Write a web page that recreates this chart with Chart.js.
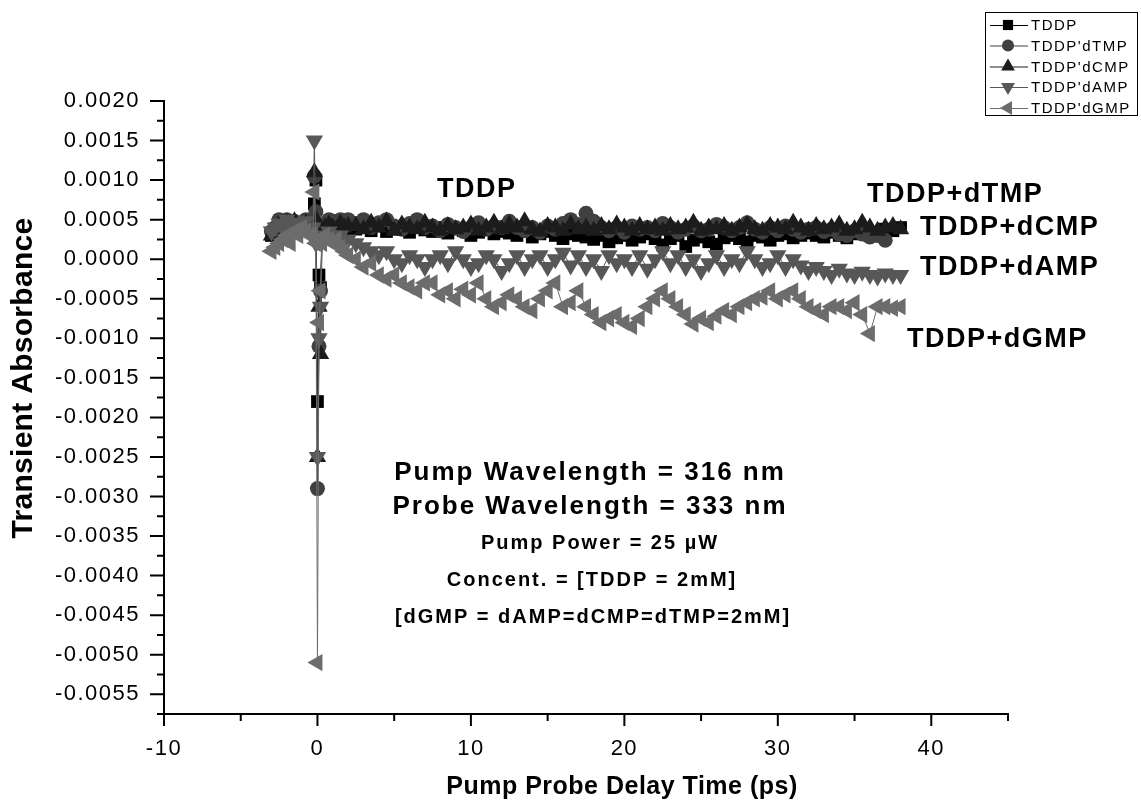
<!DOCTYPE html>
<html>
<head>
<meta charset="utf-8">
<script src="https://cdn.jsdelivr.net/npm/chart.js@4.4.0/dist/chart.umd.min.js"></script>
<style>
  html, body { margin: 0; padding: 0; background: #fff; }
  canvas { display: block; }
</style>
</head>
<body>
<canvas id="graficoTA" width="1141" height="806"></canvas>
<script>
// tiempos de retardo (ps)
const tiempos = [
  -3.0, -2.75, -2.5, -2.25, -2.0, -1.75, -1.5, -1.25, -1.0, -0.75, -0.5,
  -0.3, -0.2, -0.1, 0.0, 0.1, 0.2, 0.3,
  0.5, 0.75, 1.0, 1.25, 1.5, 1.75, 2.0,
  2.5, 3, 3.5, 4, 4.5, 5, 5.5, 6, 6.5, 7,
  7.5, 8, 8.5, 9, 9.5, 10, 10.5, 11, 11.5, 12,
  12.5, 13, 13.5, 14, 14.5, 15, 15.5, 16, 16.5, 17,
  17.5, 18, 18.5, 19, 19.5, 20, 20.5, 21, 21.5, 22,
  22.5, 23, 23.5, 24, 24.5, 25, 25.5, 26, 26.5, 27,
  27.5, 28, 28.5, 29, 29.5, 30, 30.5, 31, 31.5, 32,
  32.5, 33, 33.5, 34, 34.5, 35, 35.5, 36, 36.5, 37,
  37.5, 38
];

const tddp = [
  0.0003, 0.00035, 0.0004, 0.00045, 0.0004, 0.00038, 0.00042, 0.00036, 0.0004, 0.00044, 0.00038,
  0.0004, 0.0007, 0.0010, -0.0018, -0.0002, -0.00036, 0.0003,
  0.0004, 0.00042, 0.00038, 0.0004, 0.00045, 0.0004, 0.00038,
  0.00038, 0.0004, 0.00036, 0.00042, 0.00035, 0.0004, 0.00038, 0.00034, 0.0004, 0.00037,
  0.00035, 0.0004, 0.00033, 0.00038, 0.00036, 0.0003, 0.00034, 0.00038, 0.00032, 0.00035,
  0.00033, 0.0003, 0.00036, 0.00028, 0.00032, 0.00035, 0.0003, 0.00026, 0.00032, 0.0003,
  0.00028, 0.00025, 0.0003, 0.00022, 0.00027, 0.0003, 0.00024, 0.00028, 0.00032, 0.00026,
  0.00018, 0.00026, 0.0003, 0.00016, 0.00024, 0.00028, 0.00022, 0.00019, 0.00027, 0.0003,
  0.00026, 0.00022, 0.0003, 0.00028, 0.00024, 0.0003, 0.00032, 0.00027, 0.0003, 0.00033,
  0.0003, 0.00028, 0.00034, 0.0003, 0.00027, 0.00032, 0.00035, 0.0003, 0.00034, 0.00038,
  0.00036, 0.0004
];

const tddpDTMP = [
  0.00035, 0.0004, 0.0005, 0.00045, 0.0005, 0.00042, 0.00048, 0.0004, 0.00046, 0.0005, 0.00044,
  0.0005, 0.00105, 0.0006, -0.0029, -0.0011, -0.0004, 0.0004,
  0.00045, 0.0005, 0.00048, 0.00042, 0.0005, 0.00046, 0.0005,
  0.00045, 0.0005, 0.0004, 0.00046, 0.0005, 0.00042, 0.00038, 0.00045, 0.0005, 0.0004,
  0.00042, 0.00036, 0.00044, 0.0004, 0.00035, 0.0004, 0.00046, 0.00038, 0.00042, 0.0004,
  0.00048, 0.0004, 0.00036, 0.0004, 0.00034, 0.00042, 0.00038, 0.00045, 0.0005, 0.00044,
  0.00058, 0.00048, 0.0004, 0.00036, 0.0004, 0.00034, 0.00042, 0.00038, 0.0004, 0.00036,
  0.00045, 0.0004, 0.00034, 0.00038, 0.00042, 0.00036, 0.00038, 0.00044, 0.0004, 0.00036,
  0.0004, 0.00046, 0.00038, 0.00034, 0.0004, 0.00036, 0.00042, 0.00038, 0.00034, 0.00038,
  0.0004, 0.00035, 0.00038, 0.00032, 0.0003, 0.00036, 0.00032, 0.00028, 0.0003, 0.00024,
  null, null
];

const tddpDCMP = [
  0.0003, 0.00038, 0.00044, 0.0004, 0.00046, 0.0004, 0.00048, 0.00042, 0.0004, 0.00045, 0.0004,
  0.0004, 0.0011, 0.0005, -0.0025, -0.0006, -0.0012, 0.0003,
  0.0004, 0.00044, 0.0004, 0.00038, 0.00045, 0.0004, 0.00042,
  0.00042, 0.00038, 0.00046, 0.0004, 0.00048, 0.00036, 0.00044, 0.0004, 0.00038, 0.00046,
  0.0004, 0.00036, 0.00042, 0.00038, 0.0004, 0.00044, 0.00036, 0.0004, 0.00046, 0.00038,
  0.00044, 0.0004, 0.00048, 0.00038, 0.00035, 0.00042, 0.0004, 0.00036, 0.00044, 0.00038,
  0.0004, 0.00036, 0.00042, 0.00038, 0.00044, 0.0004, 0.00036, 0.00042, 0.00038, 0.0004,
  0.00036, 0.00042, 0.00038, 0.0004, 0.00046, 0.00036, 0.0004, 0.00038, 0.00042, 0.00036,
  0.0004, 0.00044, 0.00038, 0.00036, 0.00042, 0.0004, 0.00038, 0.00046, 0.0004, 0.00036,
  0.00042, 0.00038, 0.0004, 0.00044, 0.00036, 0.00038, 0.00046, 0.0004, 0.00036, 0.0004,
  0.00042, 0.00038
];

const tddpDAMP = [
  0.00035, 0.0004, 0.00045, 0.0004, 0.0005, 0.00042, 0.00046, 0.0004, 0.00044, 0.00048, 0.0004,
  0.0004, 0.0015, 0.0002, -0.0025, -0.0010, -0.0006, 0.00025,
  0.0003, 0.00035, 0.0003, 0.00025, 0.0003, 0.0002, 0.00025,
  0.0002, 0.00015, 0.0001, 0.00005, 0.0001, 0.0, -0.00005, 0.00005, 0.0, -0.0001,
  0.0, 0.00005, -0.00005, 0.0001, 0.0, -0.0001, -0.00005, 0.00005, 0.0, -0.00015,
  -0.00005, 0.00005, -0.0001, 0.0, 0.00005, -0.0001, 0.0, 0.00008, -0.00008, 0.00005,
  -0.0001, 0.0, -0.00015, 0.00005, -0.00005, 0.0, -0.0001, 0.00005, -0.00012, 0.0,
  0.0001, -0.00005, 0.00005, -0.0001, 0.0, -0.00015, -0.00005, 0.00005, -0.0001, 0.0,
  -0.00005, 0.0001, 0.0, -0.0001, -0.00005, 0.00005, -0.0001, 0.0, -0.00008, -0.00015,
  -0.0001, -0.00015, -0.0002, -0.00012, -0.00018, -0.0002, -0.00016, -0.0002, -0.00022, -0.00018,
  -0.0002, -0.0002
];

const tddpDGMP = [
  0.0001, 0.00015, 0.0002, 0.00025, 0.0003, 0.0002, 0.00035, 0.0003, 0.0004, 0.00035, 0.0003,
  0.0003, 0.00085, 0.0002, -0.0051, -0.0008, -0.0004, 0.0002,
  0.0003, 0.00025, 0.0002, 0.00025, 0.00015, 0.0001, 0.00005,
  0.0, -0.0001, -0.00005, -0.0002, -0.00025, -0.0002, -0.0003, -0.00035, -0.0004, -0.0003,
  -0.0003, -0.00045, -0.0004, -0.0005, -0.00038, -0.00045, -0.0003, -0.0005, -0.0006, -0.00055,
  -0.00045, -0.0005, -0.0006, -0.00065, -0.0005, -0.0004, -0.0003, -0.0006, -0.00055, -0.0004,
  -0.0006, -0.0007, -0.0008, -0.00075, -0.0007, -0.0008, -0.00085, -0.00075, -0.0006, -0.0005,
  -0.0004, -0.0005, -0.0006, -0.0007, -0.00082, -0.00075, -0.0008, -0.00072, -0.00065, -0.0007,
  -0.0006, -0.00055, -0.0005, -0.00048, -0.0004, -0.0005, -0.00045, -0.0004, -0.0005, -0.0006,
  -0.00065, -0.0007, -0.0006, -0.0006, -0.00065, -0.00055, -0.0007, -0.00094, -0.0006, -0.0006,
  -0.00062, -0.0006
];

const nombresLeyenda = ['TDDP', "TDDP'dTMP", "TDDP'dCMP", "TDDP'dAMP", "TDDP'dGMP"];
const valoresSeries = [tddp, tddpDTMP, tddpDCMP, tddpDAMP, tddpDGMP];
const etiquetasSerie = ['TDDP', 'TDDP+dTMP', 'TDDP+dCMP', 'TDDP+dAMP', 'TDDP+dGMP'];
const ticksX = [-10, 0, 10, 20, 30, 40];
const ticksY = [0.0020, 0.0015, 0.0010, 0.0005, 0.0000, -0.0005, -0.0010, -0.0015, -0.0020,
  -0.0025, -0.0030, -0.0035, -0.0040, -0.0045, -0.0050, -0.0055];
const notas = ['Pump Wavelength = 316 nm', 'Probe Wavelength = 333 nm', 'Pump Power = 25 \u00b5W',
  'Concent. = [TDDP = 2mM]', '[dGMP = dAMP=dCMP=dTMP=2mM]'];

const colores = ['#000000', '#404040', '#1c1c1c', '#575757', '#6c6c6c'];
const marcadores = ['rect', 'circle', 'triangle', 'triangle', 'triangle'];
const rotaciones = [0, 0, 0, 180, 270];
const radios = [9, 7.5, 10, 10, 10];

function marcador(ctx, estilo, rot, r, x, y, color) {
  ctx.save();
  ctx.fillStyle = color;
  ctx.beginPath();
  if (estilo === 'rect') {
    const s = r * Math.SQRT1_2;
    ctx.rect(x - s, y - s, 2 * s, 2 * s);
  } else if (estilo === 'circle') {
    ctx.arc(x, y, r, 0, Math.PI * 2);
  } else {
    let a = rot * Math.PI / 180;
    ctx.moveTo(x + Math.sin(a) * r, y - Math.cos(a) * r);
    for (let k = 0; k < 2; k++) {
      a += 2 * Math.PI / 3;
      ctx.lineTo(x + Math.sin(a) * r, y - Math.cos(a) * r);
    }
    ctx.closePath();
  }
  ctx.fill();
  ctx.restore();
}

function texto(ctx, str, x, y, fuente, espacio, alinear) {
  ctx.save();
  ctx.font = fuente;
  ctx.letterSpacing = espacio + 'px';
  ctx.fillStyle = '#000';
  ctx.textBaseline = 'middle';
  let w = ctx.measureText(str).width;
  let x0 = x;
  if (alinear === 'center') x0 = x - w / 2;
  ctx.textAlign = 'left';
  ctx.fillText(str, x0, y);
  ctx.restore();
}

const decoracion = {
  id: 'decoracion',
  beforeDraw(chart) {
    chart.ctx.letterSpacing = '1.5px';
  },
  afterDraw(chart) {
    const { ctx } = chart;
    const xs = chart.scales.x, ys = chart.scales.y;
    ctx.save();
    ctx.letterSpacing = '0px';
    ctx.strokeStyle = '#000';
    ctx.lineWidth = 2;
    const x0 = xs.left, y0 = ys.bottom;
    // marcas del eje Y (principales y secundarias)
    ctx.beginPath();
    for (let i = 0; i < ticksY.length; i++) {
      const py = ys.getPixelForValue(ticksY[i]);
      ctx.moveTo(x0, py); ctx.lineTo(x0 - 14, py);
      const pm = ys.getPixelForValue(ticksY[i] - 0.00025);
      ctx.moveTo(x0, pm); ctx.lineTo(x0 - 7, pm);
    }
    // marcas del eje X
    for (let i = 0; i < ticksX.length; i++) {
      const px = xs.getPixelForValue(ticksX[i]);
      ctx.moveTo(px, y0); ctx.lineTo(px, y0 + 12);
      const pm = xs.getPixelForValue(ticksX[i] + 5);
      ctx.moveTo(pm, y0); ctx.lineTo(pm, y0 + 7);
    }
    ctx.stroke();
    ctx.restore();

    // titulos de ejes
    texto(ctx, 'Pump Probe Delay Time (ps)', 622, 787, 'bold 25px "Liberation Sans"', 0.5, 'center');
    ctx.save();
    ctx.translate(24, 378);
    ctx.rotate(-Math.PI / 2);
    texto(ctx, 'Transient Absorbance', 0, 0, 'bold 30px "Liberation Sans"', 0.3, 'center');
    ctx.restore();

    // etiquetas de series
    const posEtiq = [[437, 190], [867, 195], [920, 228], [920, 268], [907, 340]];
    etiquetasSerie.forEach((t, i) => {
      texto(ctx, t, posEtiq[i][0], posEtiq[i][1], 'bold 27px "Liberation Sans"', 1.5, 'left');
    });

    // notas
    const posNotas = [[590, 473, 26], [590, 507, 26], [600, 543, 20], [592, 580, 20], [593, 617, 20]];
    notas.forEach((t, i) => {
      texto(ctx, t, posNotas[i][0], posNotas[i][1], 'bold ' + posNotas[i][2] + 'px "Liberation Sans"', 2, 'center');
    });

    // leyenda
    ctx.save();
    ctx.strokeStyle = '#000';
    ctx.lineWidth = 1;
    ctx.strokeRect(985.5, 12.5, 152, 103);
    ctx.restore();
    const filas = [25, 45.5, 66.5, 87, 108];
    nombresLeyenda.forEach((n, i) => {
      ctx.save();
      ctx.strokeStyle = colores[i];
      ctx.lineWidth = 1;
      ctx.beginPath();
      ctx.moveTo(990, filas[i] + 0.5); ctx.lineTo(1028, filas[i] + 0.5);
      ctx.stroke();
      ctx.restore();
      marcador(ctx, marcadores[i], rotaciones[i], radios[i] * 0.8, 1008, filas[i], colores[i]);
      texto(ctx, n, 1031, filas[i] + 1, '15px "Liberation Sans"', 1.5, 'left');
    });
  }
};

const datasets = valoresSeries.map((vals, i) => ({
  label: nombresLeyenda[i],
  data: tiempos.map((t, k) => ({ x: t, y: vals[k] })),
  borderColor: colores[i],
  backgroundColor: colores[i],
  borderWidth: 1,
  pointStyle: marcadores[i],
  pointRotation: rotaciones[i],
  pointRadius: radios[i],
  pointBorderWidth: 0,
  pointBackgroundColor: colores[i],
  pointBorderColor: colores[i],
  spanGaps: false,
  order: 5 - i
}));

const ctxTA = document.getElementById('graficoTA').getContext('2d');
new Chart(ctxTA, {
  type: 'line',
  data: { datasets: datasets },
  options: {
    responsive: false,
    animation: false,
    layout: { padding: { top: 101, right: 133, left: 0, bottom: 0 } },
    plugins: {
      legend: { display: false },
      title: { display: false },
      tooltip: { enabled: false }
    },
    scales: {
      x: {
        type: 'linear',
        min: -10,
        max: 45,
        grid: { display: false, drawTicks: true, tickLength: 12 },
        border: { display: true, color: '#000', width: 2 },
        ticks: {
          stepSize: 10,
          includeBounds: false,
          padding: 10,
          color: '#000',
          maxRotation: 0,
          font: { family: '"Liberation Sans"', size: 22 },
          callback: v => ticksX.includes(v) ? String(v) : ''
        },
        afterFit: s => { s.height = 92; }
      },
      y: {
        type: 'linear',
        min: -0.00575,
        max: 0.0020,
        grid: { display: false, drawTicks: true, tickLength: 14 },
        border: { display: true, color: '#000', width: 2 },
        ticks: {
          stepSize: 0.0005,
          includeBounds: false,
          padding: 10,
          color: '#000',
          font: { family: '"Liberation Sans"', size: 22 },
          callback: v => v.toFixed(4) === '-0.0000' ? '0.0000' : v.toFixed(4)
        },
        afterFit: s => { s.width = 164; }
      }
    }
  },
  plugins: [decoracion]
});
</script>
</body>
</html>
